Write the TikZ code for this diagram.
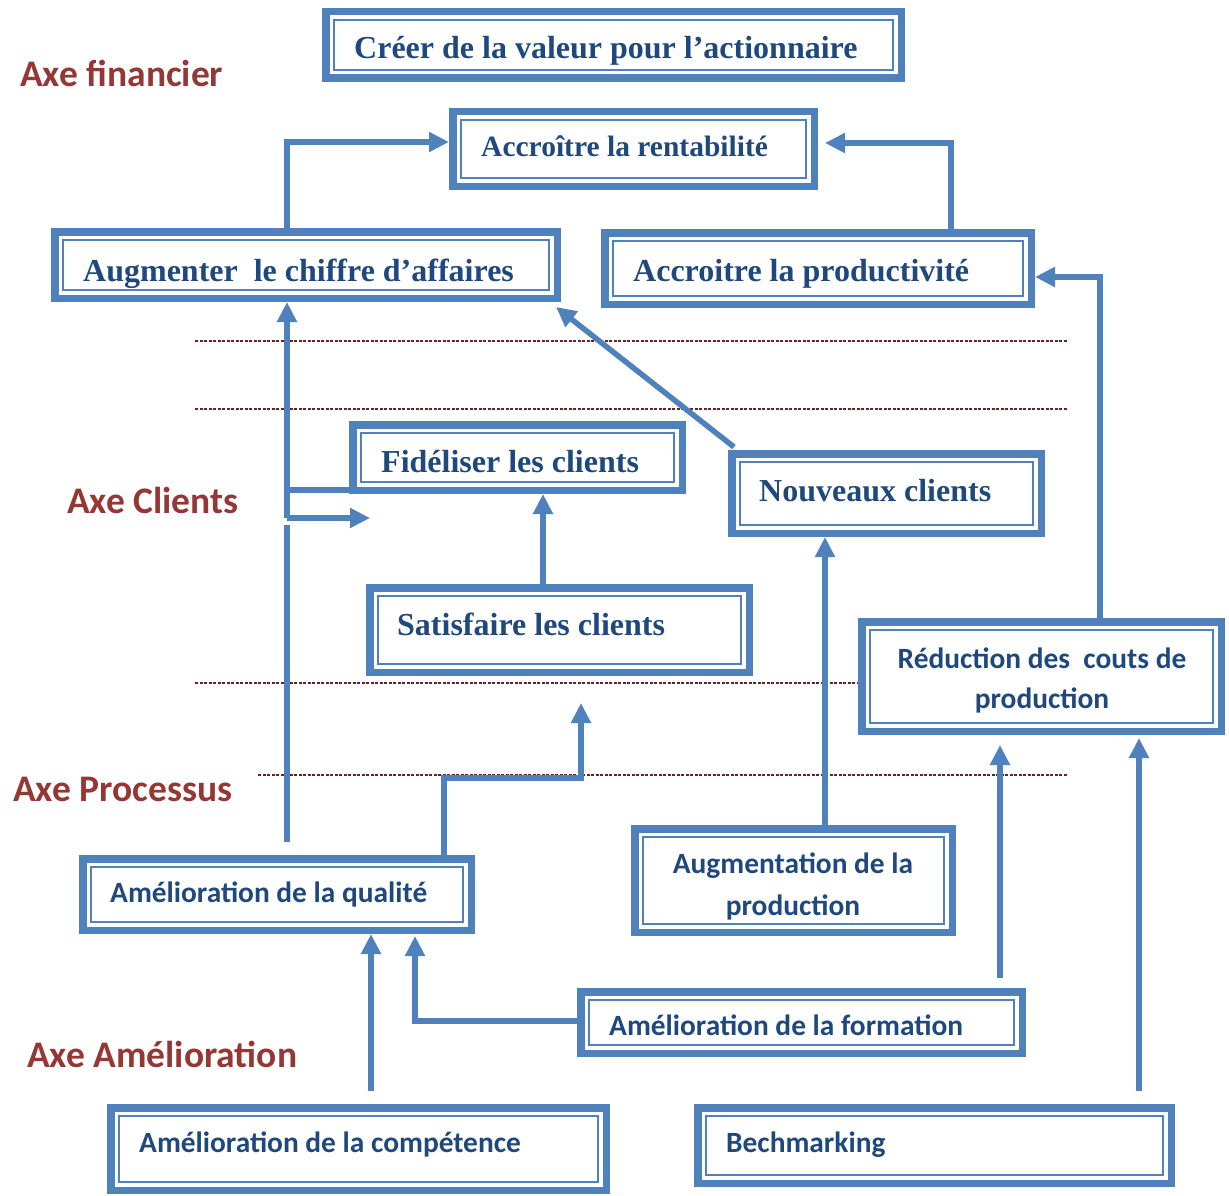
\documentclass[tikz,border=0pt]{standalone}
\usepackage{fontspec}
\setmainfont{Liberation Serif}
\newfontfamily\calib{Carlito}
\usetikzlibrary{arrows.meta,calc}
\definecolor{bb}{HTML}{4F81BD}
\definecolor{tb}{HTML}{1F497D}
\definecolor{rl}{HTML}{953735}
\definecolor{dl}{HTML}{632523}
\tikzset{
  dbox/.style 2 args={draw=bb, line width=7.5pt, fill=white, inner sep=0pt,
    minimum width=#1, minimum height=#2,
    path picture={\draw[bb, line width=2pt]
      ([xshift=8pt,yshift=8pt]path picture bounding box.south west) rectangle
      ([xshift=-8pt,yshift=-8pt]path picture bounding box.north east);}},
  sertxt/.style={text=tb, font=\bfseries\fontsize{32}{38}\selectfont, inner sep=0pt, anchor=base west},
  santxt/.style={text=tb, font=\calib\bfseries\fontsize{29.4}{40}\selectfont, inner sep=0pt, anchor=base west},
  axe/.style={text=rl, font=\calib\bfseries\fontsize{37.5}{40}\selectfont, inner sep=0pt, anchor=base west},
  sep/.style={dl, line width=1.2pt, dash pattern=on 3pt off 1.5pt},
  conn/.style={bb, line width=5.5pt},
  arr/.style={conn, -{Triangle[width=19pt,length=20pt]}}
}
\begin{document}
\begin{tikzpicture}[x=1pt,y=-1pt]
\useasboundingbox (0,0) rectangle (1229,1196);
% separators
\draw[sep] (195,341) -- (1067,341);
\draw[sep] (195,409) -- (1067,409);
\draw[sep] (195,683) -- (1067,683);
\draw[sep] (258,775) -- (1067,775);
% axis labels
\node[axe] (lfin) at (20,87) {Axe financier};
\node[axe] (lcli) at (67,513) {Axe Clients};
\node[axe] (lpro) at (13,801) {Axe Processus};
\node[axe] (lame) at (27,1067) {Axe Amélioration};
% boxes
\node[dbox={575.5pt}{66.5pt}] (cree) at (613.5,45) {};
\node[dbox={361.5pt}{74.5pt}] (rent) at (633.5,149) {};
\node[dbox={502.5pt}{66.5pt}] (aug) at (306,265) {};
\node[dbox={426.5pt}{71.5pt}] (prod) at (818,268.5) {};
\node[dbox={329.5pt}{65.5pt}] (fid) at (517.5,457.5) {};
\node[dbox={309.5pt}{79.5pt}] (nouv) at (886.5,493.5) {};
\node[dbox={379.5pt}{84.5pt}] (sat) at (559.5,630) {};
\node[dbox={359.5pt}{109.5pt}] (red) at (1041.5,676.5) {};
\node[dbox={317.5pt}{103.5pt}] (augp) at (793.5,880.5) {};
\node[dbox={388.5pt}{71.5pt}] (qual) at (277,894.5) {};
\node[dbox={441.5pt}{61.5pt}] (form) at (801.5,1022.5) {};
\node[dbox={495.5pt}{82.5pt}] (comp) at (358.5,1149) {};
\node[dbox={473.5pt}{75.5pt}] (bech) at (934.5,1145.5) {};
% texts
\node[sertxt] (tcree) at (354,59) {Créer de la valeur pour l’actionnaire};
\node[sertxt, font=\bfseries\fontsize{29.5}{34}\selectfont] (trent) at (481,157) {Accroître la rentabilité};
\node[sertxt] (taug) at (83,281) {Augmenter\ \ le chiffre d’affaires};
\node[sertxt] (tprod) at (633,281) {Accroitre la productivité};
\node[sertxt] (tfid) at (381,472) {Fidéliser les clients};
\node[sertxt] (tnouv) at (759,501) {Nouveaux clients};
\node[sertxt] (tsat) at (397,635) {Satisfaire les clients};
\node[santxt, anchor=center, align=center] (tred) at (1042,680) {Réduction des\ \ couts de\\production};
\node[santxt, anchor=center, align=center, font=\calib\bfseries\fontsize{29.4}{42}\selectfont] (taugp) at (793,886) {Augmentation de la\\production};
\node[santxt] (tqual) at (110,902) {Amélioration de la qualité};
\node[santxt] (tform) at (609,1035) {Amélioration de la formation};
\node[santxt] (tcomp) at (139,1152) {Amélioration de la compétence};
\node[santxt] (tbech) at (726,1152) {Bechmarking};
% free ends
\coordinate (fe1) at (370,518);
\coordinate (fe2) at (581,703);
\coordinate (jn1) at (287,518);
\coordinate (jn2) at (287,490);
% connectors
\draw[arr] (287,0 |- aug.north) -- (287,142) -- (rent.west |- 0,142);
\draw[arr, shorten >=7pt] (951,0 |- prod.north) -- (951,143) -- (rent.east |- 0,143);
\draw[arr] (1100,0 |- red.north) -- (1100,277) -- (prod.east |- 0,277);
\draw[arr] (jn1) -- (287,0 |- aug.south);
\draw[arr] (jn1) -- (fe1);
\draw[conn] (jn2) -- ([xshift=23pt]fid.west |- jn2);
\draw[conn, shorten <=13pt] (287,0 |- qual.north) -- (287,525);
\draw[arr] ([xshift=6pt,yshift=3pt]nouv.north west) -- ([xshift=-5pt,yshift=-5pt]aug.south east);
\draw[arr] (543,0 |- sat.north) -- (543,0 |- fid.south);
\draw[arr] (444,0 |- qual.north) -- (444,778) -- (581,778) -- (fe2);
\draw[arr] (825,0 |- augp.north) -- (825,0 |- nouv.south);
\draw[arr, shorten <=10pt, shorten >=10pt] (1000,0 |- form.north) -- (1000,0 |- red.south);
\draw[arr, shorten <=13pt, shorten >=3pt] (1139,0 |- bech.north) -- (1139,0 |- red.south);
\draw[arr, shorten <=13pt] (371,0 |- comp.north) -- (371,0 |- qual.south);
\draw[arr, shorten >=2pt] (form.west |- 0,1021) -- (415,1021) -- (415,0 |- qual.south);
\end{tikzpicture}
\end{document}
